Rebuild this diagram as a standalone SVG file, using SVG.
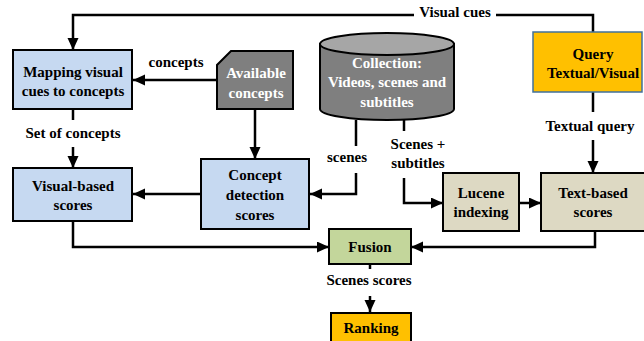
<svg xmlns="http://www.w3.org/2000/svg" width="644" height="341" viewBox="0 0 644 341" font-family="Liberation Serif, serif">
<style>
.t{font-weight:bold;font-size:15px;text-anchor:middle;fill:#000}
.w{fill:#fff}
.box{stroke:#000;stroke-width:2}
.blue{fill:#C6D9F1}
.beige{fill:#DDD9C3}
.green{fill:#C3D69B}
.orange{fill:#FFC000}
.grey{fill:#7F7F7F}
.c{fill:none;stroke:#000;stroke-width:2.5}
.a{marker-end:url(#arr)}
</style>
<defs>
<marker id="arr" markerUnits="userSpaceOnUse" markerWidth="13" markerHeight="12" refX="12" refY="5.5" orient="auto">
<path d="M0,0 L12,5.5 L0,11 z" fill="#000"/>
</marker>
</defs>
<rect width="644" height="341" fill="#fff"/>
<g id="connectors">
<path class="c" d="M593,32 V15 H496"/>
<path class="c a" d="M414,15 H73 V50"/>
<path class="c a" d="M217,80 H133"/>
<path class="c" d="M73,109 V120"/>
<path class="c a" d="M73,147 V168"/>
<path class="c a" d="M255,109 V159"/>
<path class="c a" d="M201,194 H133"/>
<path class="c" d="M356,120 V146"/>
<path class="c a" d="M356,173 V194 H310"/>
<path class="c" d="M404,120 V131"/>
<path class="c a" d="M404,178 V203 H443"/>
<path class="c" d="M593,92 V112"/>
<path class="c a" d="M593,140 V173"/>
<path class="c a" d="M519,203 H541"/>
<path class="c a" d="M73,221 V247 H329"/>
<path class="c a" d="M595,231 V247 H411"/>
<path class="c" d="M370,264 V269"/>
<path class="c a" d="M370,296 V312"/>
</g>
<g id="labels">
<text class="t" x="455" y="17">Visual cues</text>
<text class="t" x="176" y="67">concepts</text>
<text class="t" x="73" y="138">Set of concepts</text>
<text class="t" x="347" y="162">scenes</text>
<text class="t" x="418" y="149">Scenes +</text>
<text class="t" x="418" y="168">subtitles</text>
<text class="t" x="590" y="131">Textual query</text>
<text class="t" x="369" y="285">Scenes scores</text>
</g>
<g id="mapping">
<rect class="box blue" x="13" y="50" width="119" height="59"/>
<text class="t" x="73" y="77">Mapping visual</text>
<text class="t" x="73" y="96">cues to concepts</text>
</g>
<g id="available">
<polygon class="box grey" points="231,51 293,51 293,109 217,109 217,65"/>
<text class="t w" x="256" y="78">Available</text>
<text class="t w" x="256" y="98">concepts</text>
</g>
<g id="collection">
<path class="box grey" d="M320,44 V109 A67,11 0 0 0 454,109 V44 Z"/>
<ellipse class="box" cx="387" cy="44" rx="67" ry="11" fill="#A6A6A6"/>
<text class="t w" x="387" y="68">Collection:</text>
<text class="t w" x="387" y="87">Videos, scenes and</text>
<text class="t w" x="387" y="107">subtitles</text>
</g>
<g id="query">
<rect x="533" y="32" width="109" height="60" fill="#FFC000" stroke="#41719C" stroke-width="1.5"/>
<text class="t" x="593" y="59">Query</text>
<text class="t" x="593" y="78">Textual/Visual</text>
</g>
<g id="visual-based">
<rect class="box blue" x="13" y="168" width="119" height="53"/>
<text class="t" x="73" y="191">Visual-based</text>
<text class="t" x="73" y="210">scores</text>
</g>
<g id="concept-detection">
<rect class="box blue" x="201" y="159" width="108" height="70"/>
<text class="t" x="255" y="180">Concept</text>
<text class="t" x="255" y="200">detection</text>
<text class="t" x="255" y="220">scores</text>
</g>
<g id="lucene">
<rect class="box beige" x="443" y="173" width="76" height="58"/>
<text class="t" x="481" y="198">Lucene</text>
<text class="t" x="481" y="217">indexing</text>
</g>
<g id="text-based">
<rect class="box beige" x="541" y="173" width="110" height="58"/>
<text class="t" x="593" y="198">Text-based</text>
<text class="t" x="593" y="217">scores</text>
</g>
<g id="fusion">
<rect class="box green" x="329" y="229" width="82" height="35"/>
<text class="t" x="370" y="252">Fusion</text>
</g>
<g id="ranking">
<rect class="box orange" x="331" y="313" width="80" height="40"/>
<text class="t" x="371" y="333">Ranking</text>
</g>
</svg>
